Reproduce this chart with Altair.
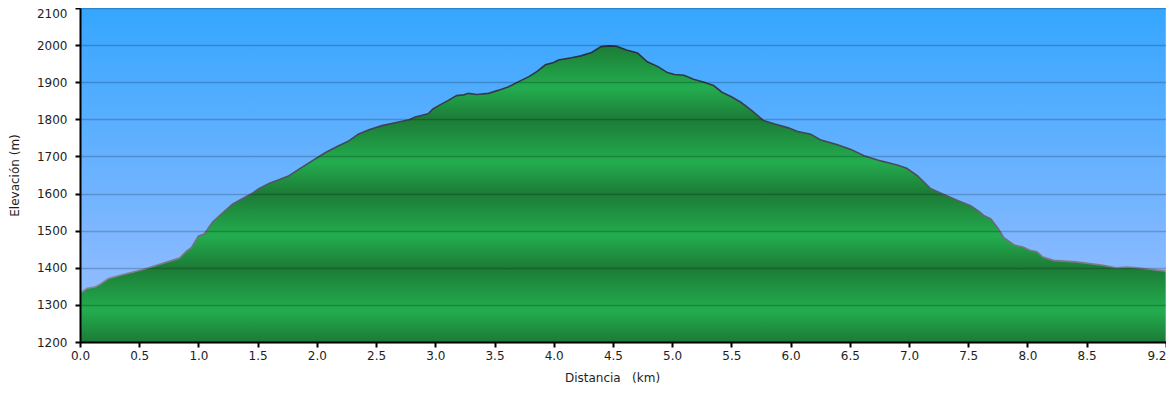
import altair as alt
import pandas as pd

# ---------------- data ----------------
km = [0.00, 0.06, 0.13, 0.17, 0.24, 0.34, 0.54, 0.68, 0.82, 0.84, 0.90, 0.94,
      1.00, 1.05, 1.12, 1.20, 1.29, 1.44, 1.51, 1.60, 1.68, 1.76, 1.85, 1.96,
      2.07, 2.18, 2.27, 2.35, 2.44, 2.55, 2.69, 2.78, 2.83, 2.94, 2.98, 3.04,
      3.11, 3.18, 3.24, 3.28, 3.35, 3.45, 3.53, 3.62, 3.70, 3.79, 3.86, 3.93,
      4.00, 4.04, 4.15, 4.23, 4.32, 4.40, 4.47, 4.53, 4.58, 4.62, 4.67, 4.71,
      4.79, 4.88, 4.96, 5.02, 5.10, 5.18, 5.27, 5.35, 5.42, 5.50, 5.58, 5.67,
      5.77, 5.86, 5.98, 6.06, 6.17, 6.25, 6.39, 6.51, 6.62, 6.76, 6.90, 6.98,
      7.07, 7.18, 7.29, 7.40, 7.52, 7.59, 7.63, 7.69, 7.75, 7.80, 7.89, 7.96,
      8.02, 8.08, 8.13, 8.22, 8.41, 8.64, 8.75, 8.84, 8.92, 9.03, 9.17]
elev = [1332, 1345, 1349, 1356, 1371, 1380, 1396, 1410, 1424, 1426, 1445, 1454,
        1485, 1491, 1523, 1547, 1572, 1598, 1613, 1628, 1637, 1647, 1666, 1688,
        1710, 1728, 1742, 1760, 1772, 1783, 1793, 1799, 1806, 1815, 1828, 1839,
        1851, 1864, 1866, 1870, 1867, 1870, 1878, 1888, 1901, 1915, 1929, 1947,
        1953, 1960, 1966, 1971, 1980, 1996, 1998, 1997, 1991, 1986, 1982, 1978,
        1955, 1942, 1926, 1921, 1919, 1908, 1900, 1891, 1873, 1861, 1846, 1824,
        1797, 1788, 1777, 1767, 1760, 1745, 1732, 1719, 1702, 1688, 1677, 1668,
        1648, 1614, 1598, 1583, 1567, 1552, 1541, 1532, 1507, 1481, 1461, 1456,
        1447, 1443, 1429, 1420, 1416, 1407, 1400, 1402, 1400, 1396, 1391]

x_tick_values = [0.0, 0.5, 1.0, 1.5, 2.0, 2.5, 3.0, 3.5, 4.0, 4.5, 5.0, 5.5,
                 6.0, 6.5, 7.0, 7.5, 8.0, 8.5, 9.17]
x_tick_labels = ["0.0", "0.5", "1.0", "1.5", "2.0", "2.5", "3.0", "3.5", "4.0",
                 "4.5", "5.0", "5.5", "6.0", "6.5", "7.0", "7.5", "8.0", "8.5", "9.2"]
y_tick_values = [1200, 1300, 1400, 1500, 1600, 1700, 1800, 1900, 2000, 2100]
y_tick_labels = ["1200", "1300", "1400", "1500", "1600", "1700", "1800", "1900",
                 "2000", "2100"]

x_title = "Distancia\u00a0\u00a0\u00a0(km)"
y_title = "Elevación (m)"

# ---------------- layout / style ----------------
X_MAX = 9.17
Y_MIN, Y_MAX = 1200, 2100
W, H = 1086, 334
FONT = "DejaVu Sans"
TXT = "#1e1e1e"


def hex2rgb(h):
    h = h.lstrip("#")
    return tuple(int(h[i:i + 2], 16) for i in (0, 2, 4))


def mix(c1, c2, t):
    a, b = hex2rgb(c1), hex2rgb(c2)
    return "#%02x%02x%02x" % tuple(round(a[i] + (b[i] - a[i]) * t) for i in range(3))


# banded green fill: dark on even hundreds, bright just below odd hundreds
DARK, BRIGHT = "#1c7b36", "#23ad4f"
keys = []
for v in y_tick_values:
    if (v // 100) % 2 == 0:
        keys.append((v, DARK))
    else:
        keys.append((v - 15, BRIGHT))
keys.sort()
emax = max(elev)
stops = []
for i, (e, c) in enumerate(keys):
    if Y_MIN <= e <= emax:
        stops.append(alt.GradientStop(offset=(emax - e) / (emax - Y_MIN), color=c))
    if i + 1 < len(keys) and e <= emax < keys[i + 1][0]:
        e2, c2 = keys[i + 1]
        stops.append(alt.GradientStop(offset=0.0, color=mix(c, c2, (emax - e) / (e2 - e))))
stops.sort(key=lambda s: s.offset)

green_fill = alt.Gradient(gradient="linear", x1=0, x2=0, y1=0, y2=1, stops=stops)
sky_fill = alt.Gradient(gradient="linear", x1=0, x2=0, y1=0, y2=1,
                        stops=[alt.GradientStop(offset=0, color="#35a6ff"),
                               alt.GradientStop(offset=1, color="#a0bfff")])
edge_stroke = alt.Gradient(gradient="linear", x1=0, x2=0, y1=0, y2=1,
                           stops=[alt.GradientStop(offset=0, color="#26303f"),
                                  alt.GradientStop(offset=0.5, color="#4a4e5c"),
                                  alt.GradientStop(offset=1, color="#8c8c98")])

x_label_expr = "%s[indexof(%s, datum.value)]" % (
    "[" + ",".join("'%s'" % s for s in x_tick_labels) + "]",
    "[" + ",".join(str(v) for v in x_tick_values) + "]")
y_label_expr = "%s[indexof(%s, datum.value)]" % (
    "[" + ",".join("'%s'" % s for s in y_tick_labels) + "]",
    "[" + ",".join(str(v) for v in y_tick_values) + "]")

x_axis = alt.Axis(
    values=x_tick_values, labelExpr=x_label_expr, grid=False,
    domainColor="black", domainWidth=2, tickColor="black", tickWidth=2, tickSize=5,
    labelFont=FONT, labelFontSize=12, labelColor=TXT, labelPadding=3,
    labelFlush=False, labelOverlap=False,
    labelAlign={"condition": {"test": "datum.value > 9", "value": "right"}, "value": "center"},
    title=x_title, titleFont=FONT, titleFontSize=12, titleFontWeight="normal",
    titleColor=TXT, titleX=532, titleY=35, titleAlign="center", titleBaseline="middle",
    zindex=1)

y_axis = alt.Axis(
    values=y_tick_values, labelExpr=y_label_expr, tickCount=10,
    grid=True, gridColor="black", gridOpacity=0.2, gridWidth=1.5,
    domainColor="black", domainWidth=2, tickColor="black", tickWidth=2, tickSize=5,
    labelFont=FONT, labelFontSize=12, labelColor=TXT, labelPadding=8,
    labelFlush=False, labelOverlap=False,
    labelBaseline={"condition": {"test": "datum.value >= 2100", "value": "top"}, "value": "middle"},
    title=y_title, titleFont=FONT, titleFontSize=12, titleFontWeight="normal",
    titleColor=TXT, titleX=-66, titleY=167, titleAngle=270, titleAlign="center",
    titleBaseline="middle", zindex=1)

df = pd.DataFrame({"km": km, "elev": elev})
xs = alt.Scale(domain=[0, X_MAX], nice=False, zero=False)
ys = alt.Scale(domain=[Y_MIN, Y_MAX], nice=False, zero=False)

sky = alt.Chart(pd.DataFrame({"k": [0]})).mark_rect(fill=sky_fill).encode(
    x=alt.value(0), x2=alt.value(W), y=alt.value(0), y2=alt.value(H))

area = alt.Chart(df).mark_area(fill=green_fill, interpolate="linear").encode(
    x=alt.X("km:Q", scale=xs, axis=x_axis),
    y=alt.Y("elev:Q", scale=ys, axis=y_axis),
    y2=alt.datum(Y_MIN))

edge = alt.Chart(df).mark_line(stroke=edge_stroke, strokeWidth=1.6).encode(
    x=alt.X("km:Q", scale=xs, axis=x_axis),
    y=alt.Y("elev:Q", scale=ys, axis=y_axis))

right_edge = alt.Chart(pd.DataFrame({"x": [X_MAX]})).mark_rule(
    color="#8fe08f", strokeWidth=1).encode(x=alt.X("x:Q", scale=xs, axis=x_axis))

chart = alt.layer(sky, area, edge, right_edge).properties(
    width=W, height=H,
    autosize=alt.AutoSizeParams(type="none"),
    padding={"left": 72, "top": 0, "right": 0, "bottom": 43},
    background="white",
).configure_view(strokeWidth=0)

chart.save("out.html", embed_options={"renderer": "svg", "actions": False})
